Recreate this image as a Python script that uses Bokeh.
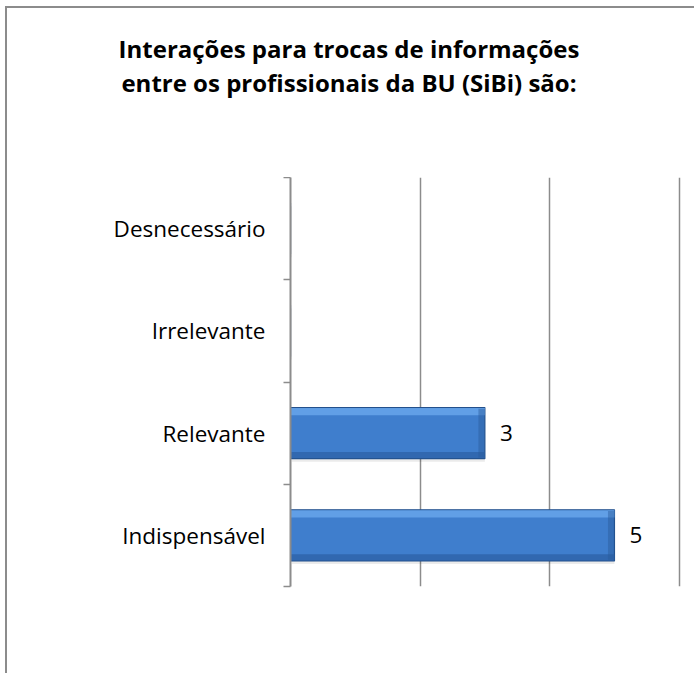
from bokeh.plotting import figure
from bokeh.models import Range1d, FixedTicker, ColumnDataSource, Div
from bokeh.layouts import column
from bokeh.core.properties import value
from bokeh.embed import file_html
from bokeh.resources import INLINE

# ---- data ----
categories = ["Indispensável", "Relevante", "Irrelevante", "Desnecessário"]  # bottom to top
counts = [5, 3, 0, 0]
x_ticks = [0, 2, 4, 6]
title_lines = ["Interações para trocas de informações",
               "entre os profissionais da BU (SiBi) são:"]

FONT = "Open Sans"
GRAY = "#8c8c8c"
W = 686

title = Div(text="<br>".join(title_lines), width=W, height=159,
            styles={"text-align": "center", "font-family": FONT, "font-weight": "bold",
                    "font-size": "24px", "line-height": "34px", "color": "#000000",
                    "padding-top": "19px", "padding-right": "12px",
                    "box-sizing": "border-box", "background": "white"})

p = figure(width=W, height=497, output_backend="svg", toolbar_location=None,
           x_range=Range1d(0, 6.05), y_range=Range1d(0, len(categories)),
           min_border_left=283, min_border_right=11, min_border_top=0,
           min_border_bottom=88)
p.outline_line_color = None
p.background_fill_color = "white"
p.border_fill_color = "white"

# x axis hidden, grid kept
p.xaxis.ticker = FixedTicker(ticks=x_ticks)
p.xaxis.visible = False
p.xgrid.ticker = FixedTicker(ticks=x_ticks)
p.xgrid.grid_line_color = GRAY
p.xgrid.grid_line_width = 1.5
p.ygrid.grid_line_color = None

# y axis: labels at category centres, ticks at boundaries
centres = [i + 0.5 for i in range(len(categories))]
bounds = [float(i) for i in range(len(categories) + 1)]
p.yaxis.ticker = FixedTicker(ticks=centres, minor_ticks=bounds)
p.yaxis.major_label_overrides = {c: name for c, name in zip(centres, categories)}
p.yaxis.major_tick_line_color = None
p.yaxis.major_tick_out = 0
p.yaxis.major_tick_in = 0
p.yaxis.minor_tick_line_color = GRAY
p.yaxis.minor_tick_line_width = 1.5
p.yaxis.minor_tick_out = 7
p.yaxis.minor_tick_in = 0
p.yaxis.axis_line_color = GRAY
p.yaxis.axis_line_width = 2
p.yaxis.major_label_standoff = 18
p.yaxis.major_label_text_font = FONT
p.yaxis.major_label_text_font_size = "22.5px"
p.yaxis.major_label_text_color = "#000000"

bh = 0.5
src = ColumnDataSource(dict(y=centres, right=counts))
shadow_src = ColumnDataSource(dict(y=[c - 0.03 for c in centres], right=counts))
# shadow
p.hbar(y="y", right="right", left=0.02, height=bh, source=shadow_src,
       fill_color="#000000", fill_alpha=0.08, line_color=None)
# main bar
p.hbar(y="y", right="right", left=0, height=bh, source=src,
       fill_color="#3f7ecd", line_color="#23508c", line_width=1.2)
# bevel shading
top_src = ColumnDataSource(dict(y=[c + bh / 2 - 0.04 for c in centres], right=counts))
bot_src = ColumnDataSource(dict(y=[c - bh / 2 + 0.035 for c in centres], right=counts))
p.hbar(y="y", right="right", left=0, height=0.07, source=top_src,
       fill_color="#6aa8ec", fill_alpha=0.8, line_color=None)
p.hbar(y="y", right="right", left=0, height=0.06, source=bot_src,
       fill_color="#2d62a5", fill_alpha=0.75, line_color=None)
end_src = ColumnDataSource(dict(y=centres, left=[max(v - 0.1, 0) for v in counts], right=counts))
p.hbar(y="y", left="left", right="right", height=bh * 0.95, source=end_src,
       fill_color="#2a5c9c", fill_alpha=0.45, line_color=None)

# value labels (non-zero only)
lab_y = [c for c, v in zip(centres, counts) if v > 0]
lab_x = [v for v in counts if v > 0]
p.text(x=lab_x, y=lab_y, text=[str(v) for v in lab_x], x_offset=15,
       text_baseline="middle", text_align="left", text_font=value(FONT),
       text_font_size="22.5px", text_color="#000000")

layout = column(title, p, spacing=0,
                styles={"margin-left": "5px", "margin-top": "6px",
                        "border-top": "2px solid #8c8c8c",
                        "border-left": "2px solid #8c8c8c"})

open("out.html", "w").write(file_html(layout, INLINE))
